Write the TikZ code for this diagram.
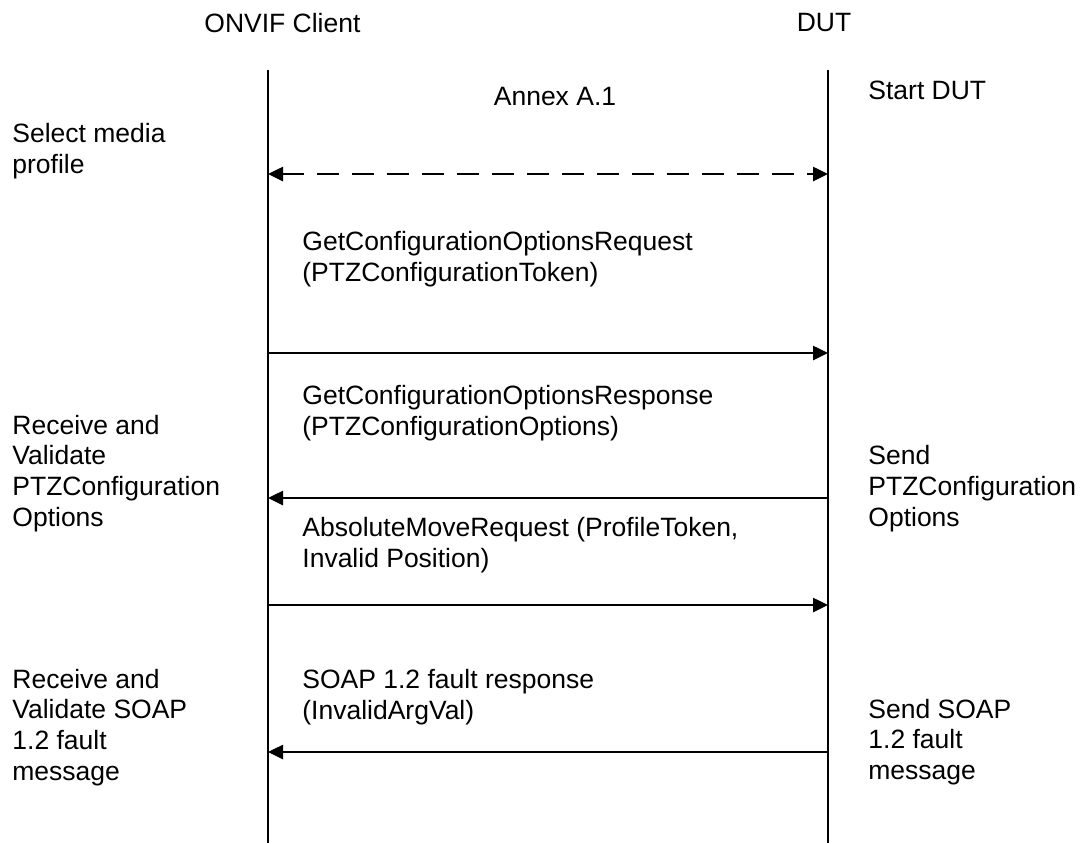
\documentclass[tikz,border=0pt]{standalone}
\usepackage{fontspec}
\setmainfont{Liberation Sans}
\usetikzlibrary{arrows.meta}
\begin{document}
\begin{tikzpicture}[x=0.5pt,y=-0.5pt,
  txt/.style={inner sep=0pt, align=left, font=\fontsize{13.25pt}{15.4pt}\selectfont},
  lifeline/.style={line width=0.9pt},
  tip/.style={Triangle[length=7.5pt,width=7pt]},
  msg/.style={line width=1.3pt, -{Triangle[length=7.5pt,width=7pt]}},
  dmsg/.style={line width=1.3pt, {Triangle[length=7.5pt,width=7pt]}-{Triangle[length=7.5pt,width=7pt]}, dash pattern=on 11pt off 6.5pt}]
\useasboundingbox (0,0) rectangle (1083,843);
\fill[white] (0,0) rectangle (1083,843);
% headers
\node[txt, anchor=west] (client) at (204,23) {ONVIF Client};
\node[txt] (dut) at (824,23) {DUT};
% lifelines
\coordinate (ct) at (268,70); \coordinate (cb) at (268,843);
\coordinate (dt) at (828,70); \coordinate (db) at (828,843);
\draw[lifeline] (ct) -- (cb);
\draw[lifeline] (dt) -- (db);
% annex
\node[txt] (annex) at (555,97) {Annex A.1};
\node[txt, anchor=west] (start) at (868,90) {Start DUT};
\node[txt, anchor=west] (select) at (12,151.5) {Select media\\profile};
\coordinate (c0) at (268,174); \coordinate (d0) at (828,174);
\draw[dmsg] (c0) -- (d0);
% request 1
\node[txt, anchor=west] (m1) at (302,259) {GetConfigurationOptionsRequest\\(PTZConfigurationToken)};
\coordinate (c1) at (268,353); \coordinate (d1) at (828,353);
\draw[msg] (c1) -- (d1);
% response 1
\node[txt, anchor=west] (m2) at (302,413) {GetConfigurationOptionsResponse\\(PTZConfigurationOptions)};
\node[txt, anchor=west] (rv1) at (12,473.5) {Receive and\\Validate\\PTZConfiguration\\Options};
\node[txt, anchor=west] (sd1) at (868,488.5) {Send\\PTZConfiguration\\Options};
\coordinate (c2) at (268,498); \coordinate (d2) at (828,498);
\draw[msg] (d2) -- (c2);
% request 2
\node[txt, anchor=west] (m3) at (302,545) {AbsoluteMoveRequest (ProfileToken,\\Invalid Position)};
\coordinate (c3) at (268,605); \coordinate (d3) at (828,605);
\draw[msg] (c3) -- (d3);
% fault
\node[txt, anchor=west] (m4) at (302,697) {SOAP 1.2 fault response\\(InvalidArgVal)};
\node[txt, anchor=west] (rv2) at (12,727.5) {Receive and\\Validate SOAP\\1.2 fault\\message};
\node[txt, anchor=west] (sd2) at (868,742) {Send SOAP\\1.2 fault\\message};
\coordinate (c4) at (268,752); \coordinate (d4) at (828,752);
\draw[msg] (d4) -- (c4);
\end{tikzpicture}
\end{document}
